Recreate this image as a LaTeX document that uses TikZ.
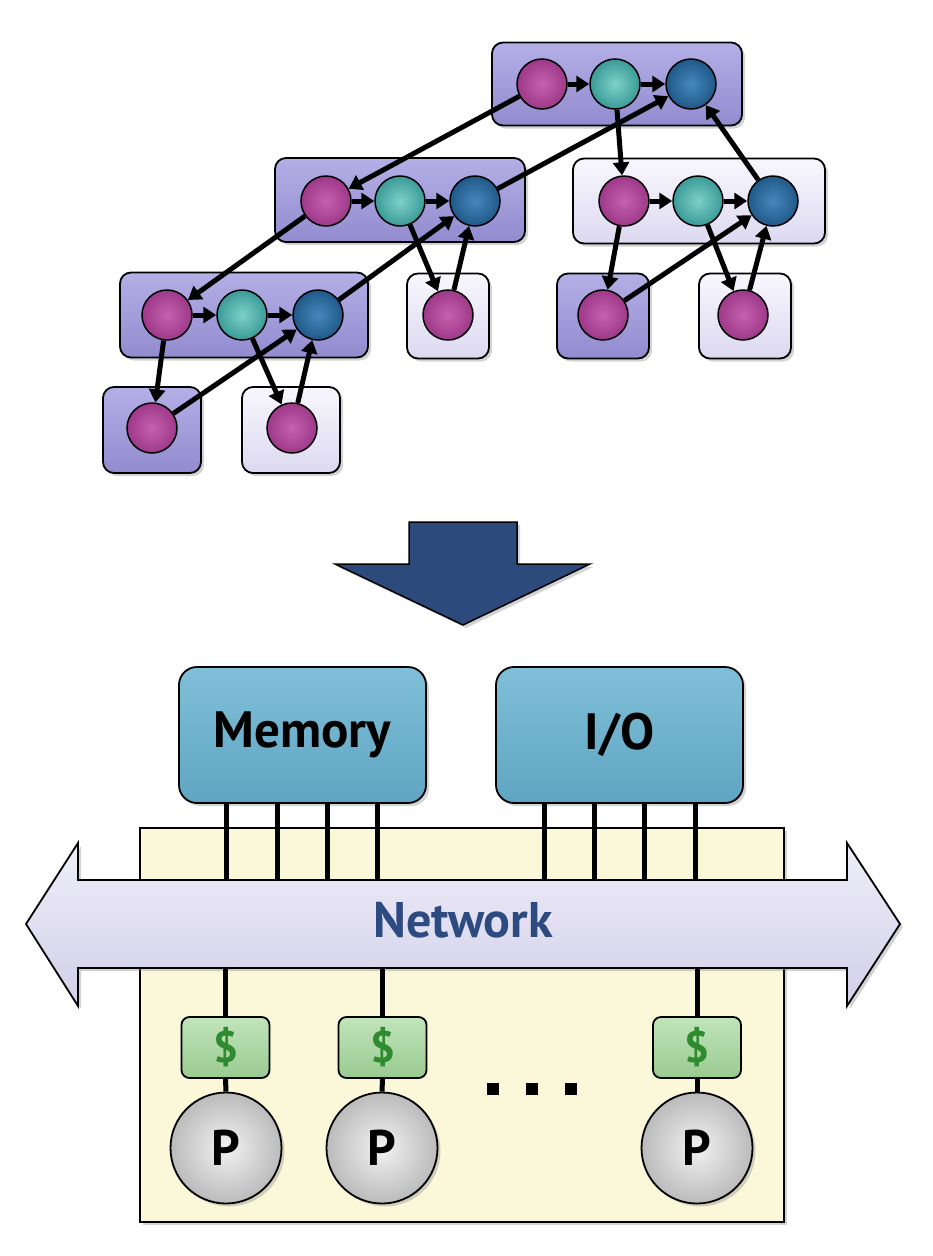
\documentclass[tikz,border=0pt]{standalone}
\usepackage{fontspec}
\setmainfont{PT Sans}
\usetikzlibrary{arrows.meta,shadows}
\definecolor{bdT}{HTML}{B4AFE6}
\definecolor{bdB}{HTML}{928BCF}
\definecolor{blT}{HTML}{F8F7FD}
\definecolor{blB}{HTML}{DCD9F0}
\definecolor{magL}{HTML}{C462AE}
\definecolor{magD}{HTML}{9E3889}
\definecolor{teaL}{HTML}{7FD0C9}
\definecolor{teaD}{HTML}{3A9B97}
\definecolor{bluL}{HTML}{4787BD}
\definecolor{bluD}{HTML}{1F5988}
\definecolor{memT}{HTML}{80BFD8}
\definecolor{memB}{HTML}{5FA5C2}
\definecolor{panelc}{HTML}{FBF8DA}
\definecolor{netT}{HTML}{EFEEF9}
\definecolor{netB}{HTML}{D2CFE8}
\definecolor{cacheT}{HTML}{C2E4BB}
\definecolor{cacheB}{HTML}{98CB90}
\definecolor{dollar}{HTML}{2E8B30}
\definecolor{pL}{HTML}{F2F2F2}
\definecolor{pD}{HTML}{BBBBBB}
\definecolor{navy}{HTML}{2C4A7B}
\definecolor{nettext}{HTML}{2D4B80}
\tikzset{
  shad/.style={drop shadow={opacity=0.35, shadow xshift=3pt, shadow yshift=-3pt}},
  gbox/.style={draw=black, line width=1.8pt, rounded corners=11pt, inner sep=0pt, shad},
  dbox/.style={gbox, top color=bdT, bottom color=bdB},
  lbox/.style={gbox, top color=blT, bottom color=blB},
  ball/.style={circle, draw=black, line width=1.5pt, minimum size=50pt, inner sep=0pt},
  mag/.style={ball, inner color=magL, outer color=magD},
  tea/.style={ball, inner color=teaL, outer color=teaD},
  blu/.style={ball, inner color=bluL, outer color=bluD},
  arr/.style={-{Triangle[length=13pt,width=16pt]}, line width=5pt},
  bus/.style={line width=5pt},
  bigbox/.style={draw=black, line width=1.8pt, rounded corners=18pt, top color=memT, bottom color=memB,
    minimum width=247pt, minimum height=136pt, inner sep=0pt, font=\fontsize{51}{56}\selectfont\bfseries, shad},
  panel/.style={draw=black, line width=1.5pt, fill=panelc, inner sep=0pt, shad},
  cache/.style={draw=black, line width=1.8pt, rounded corners=8pt, top color=cacheT, bottom color=cacheB,
    minimum width=88pt, minimum height=61pt, inner sep=0pt, text=dollar, font=\fontsize{44}{48}\selectfont\bfseries},
  proc/.style={circle, draw=black, line width=1.8pt, minimum size=111pt, inner sep=0pt,
    inner color=pL, outer color=pD, font=\fontsize{50}{55}\selectfont\bfseries, shad},
  dotsq/.style={fill=black, minimum size=12pt, inner sep=0pt},
}
\begin{document}
\begin{tikzpicture}[x=1pt,y=-1pt]
\useasboundingbox (0,0) rectangle (932,1256);
% ---------- task graph ----------
\node[dbox, minimum width=250pt, minimum height=83pt] (A) at (617,84) {};
\node[dbox, minimum width=250pt, minimum height=84pt] (B) at (400,200) {};
\node[lbox, minimum width=252pt, minimum height=85pt] (C) at (699,201) {};
\node[dbox, minimum width=248pt, minimum height=85pt] (D) at (244,315) {};
\node[lbox, minimum width=82pt, minimum height=85pt] (E) at (448,316) {};
\node[dbox, minimum width=92pt, minimum height=85pt] (F) at (603,316) {};
\node[lbox, minimum width=92pt, minimum height=85pt] (G) at (745,316) {};
\node[dbox, minimum width=98pt, minimum height=86pt] (H) at (152,430) {};
\node[lbox, minimum width=98pt, minimum height=86pt] (I) at (291,430) {};

\node[mag] (Am) at (542,84) {};
\node[tea] (At) at (615,84) {};
\node[blu] (Ab) at (691,84) {};
\node[mag] (Bm) at (326,201) {};
\node[tea] (Bt) at (400,201) {};
\node[blu] (Bb) at (475,201) {};
\node[mag] (Cm) at (624,201) {};
\node[tea] (Ct) at (698,201) {};
\node[blu] (Cb) at (773,201) {};
\node[mag] (Dm) at (167,315) {};
\node[tea] (Dt) at (242,315) {};
\node[blu] (Db) at (318,315) {};
\node[mag] (Em) at (448,315) {};
\node[mag] (Fm) at (603,315) {};
\node[mag] (Gm) at (743,315) {};
\node[mag] (Hm) at (152,428) {};
\node[mag] (Im) at (292,428) {};

\draw[arr] (Am) -- (At);
\draw[arr] (At) -- (Ab);
\draw[arr] (Bm) -- (Bt);
\draw[arr] (Bt) -- (Bb);
\draw[arr] (Cm) -- (Ct);
\draw[arr] (Ct) -- (Cb);
\draw[arr] (Dm) -- (Dt);
\draw[arr] (Dt) -- (Db);
\draw[arr] (Am) -- (Bm);
\draw[arr] (Bb) -- (Ab);
\draw[arr] (At) -- (Cm);
\draw[arr] (Cb) -- (Ab);
\draw[arr] (Bm) -- (Dm);
\draw[arr] (Db) -- (Bb);
\draw[arr] (Bt) -- (Em);
\draw[arr] (Em) -- (Bb);
\draw[arr] (Cm) -- (Fm);
\draw[arr] (Fm) -- (Cb);
\draw[arr] (Ct) -- (Gm);
\draw[arr] (Gm) -- (Cb);
\draw[arr] (Dm) -- (Hm);
\draw[arr] (Hm) -- (Db);
\draw[arr] (Dt) -- (Im);
\draw[arr] (Im) -- (Db);

% ---------- down arrow ----------
\filldraw[fill=navy, draw=black, line width=1.5pt, shad]
  (409,522) -- (517,522) -- (517,564) -- (590,564) -- (463,625) -- (335,564) -- (409,564) -- cycle;

% ---------- machine ----------
\node[panel, minimum width=644pt, minimum height=394pt] (pan) at (462,1025) {};
\node[bigbox] (mem) at (302.5,735) {Memory};
\node[bigbox] (io) at (619.5,735) {I/O};

\foreach \i/\x in {1/226,2/277,3/327,4/377}{
  \coordinate (mt\i) at (\x,880);
  \draw[bus] (mem.south -| mt\i) -- (mt\i);
}
\foreach \i/\x in {1/544,2/594,3/644,4/695}{
  \coordinate (it\i) at (\x,880);
  \draw[bus] (io.south -| it\i) -- (it\i);
}

\draw[line width=1.8pt, top color=netT, bottom color=netB, shad]
  (26,924) -- (78,843) -- (78,880) -- (847,880) -- (847,843) -- (900,924)
  -- (847,1006) -- (847,968) -- (78,968) -- (78,1006) -- cycle;
\node[text=nettext, font=\fontsize{50}{55}\selectfont\bfseries] (net) at (463,920) {Network};
\coordinate (nb) at (0,968);

\node[cache] (k1) at (225.5,1047.5) {\$};
\node[cache] (k2) at (382.5,1047.5) {\$};
\node[cache] (k3) at (697,1047.5) {\$};
\node[proc] (p1) at (226,1148) {P};
\node[proc] (p2) at (382,1148) {P};
\node[proc] (p3) at (697,1148) {P};

\foreach \k/\p in {k1/p1,k2/p2,k3/p3}{
  \draw[bus] (\k.north |- nb) -- (\k.north);
  \draw[bus] (\k.south) -- (\p.north);
}
\node[dotsq] (dd1) at (493,1089) {};
\node[dotsq] (dd2) at (532,1089) {};
\node[dotsq] (dd3) at (571,1089) {};
\end{tikzpicture}
\end{document}
